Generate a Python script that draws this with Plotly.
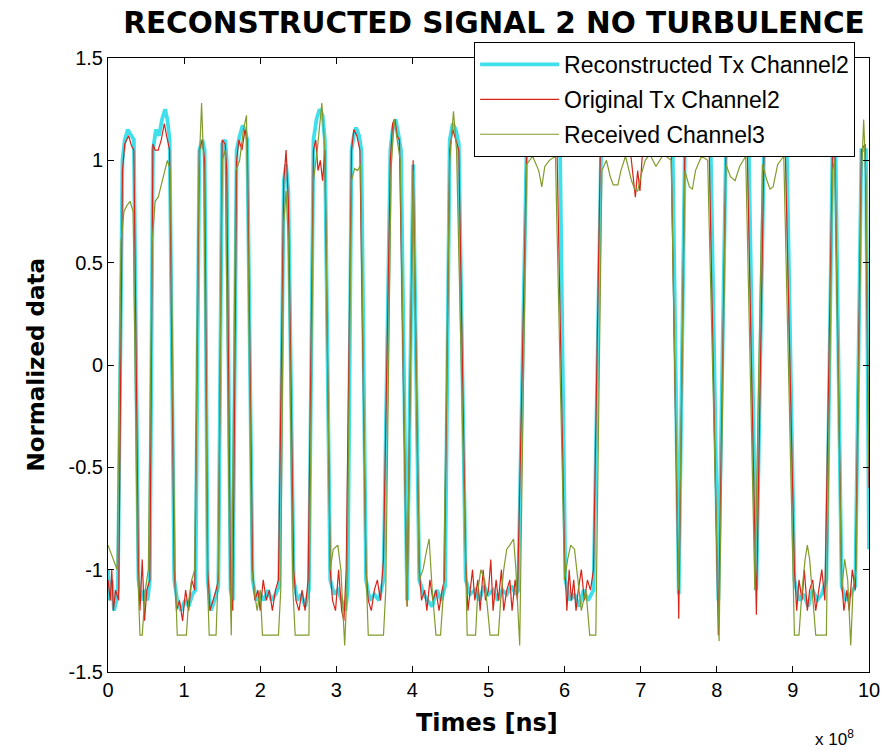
import plotly.graph_objects as go

# ---------------- data (time in units of 1e8 ns) ----------------
x_ticks = [0, 1, 2, 3, 4, 5, 6, 7, 8, 9, 10]
x_tick_text = ["0", "1", "2", "3", "4", "5", "6", "7", "8", "9", "10"]
y_ticks = [-1.5, -1.0, -0.5, 0.0, 0.5, 1.0, 1.5]
y_tick_text = ["-1.5", "-1", "-0.5", "0", "0.5", "1", "1.5"]

# Reconstructed Tx Channel2
rec_t = [0.00, 0.02, 0.05, 0.08, 0.11, 0.13,
         0.19, 0.22, 0.26, 0.30, 0.34,
         0.40, 0.44, 0.48, 0.52, 0.55,
         0.59, 0.63, 0.67, 0.71, 0.75, 0.78, 0.81,
         0.87, 0.91, 0.96, 1.01, 1.06, 1.11, 1.15,
         1.20, 1.24, 1.27,
         1.31, 1.35, 1.40, 1.45,
         1.50, 1.54, 1.56,
         1.61, 1.64,
         1.69, 1.73, 1.77, 1.80, 1.83,
         1.90, 1.95, 2.00, 2.05, 2.10, 2.15, 2.20, 2.25,
         2.31, 2.34, 2.37,
         2.44, 2.49, 2.54, 2.59, 2.64,
         2.70, 2.74, 2.78, 2.82, 2.85,
         2.92, 2.97, 3.02, 3.07, 3.12, 3.15,
         3.20, 3.23, 3.26, 3.30, 3.33,
         3.39, 3.44, 3.50, 3.56, 3.62,
         3.71, 3.74, 3.78, 3.82, 3.85,
         3.93,
         4.01,
         4.09, 4.15, 4.20, 4.26, 4.32, 4.38, 4.43,
         4.49, 4.53, 4.57, 4.61,
         4.70, 4.76, 4.82, 4.88, 4.94, 5.00, 5.06, 5.12, 5.18, 5.24, 5.30, 5.36, 5.39,
         5.50, 5.94,
         6.01, 6.07, 6.13, 6.19, 6.25, 6.31, 6.38,
         6.48, 7.42,
         7.50,
         7.58, 7.92,
         8.02,
         8.12, 8.42,
         8.52,
         8.62, 8.92,
         9.02, 9.08, 9.14, 9.20, 9.26, 9.32, 9.38, 9.44,
         9.52, 9.56,
         9.64, 9.70, 9.76, 9.82,
         9.90, 9.96,
         10.0]
rec_v = [-1.00, -1.15, -1.05, -1.20, -1.15, -1.10,
         1.00, 1.10, 1.15, 1.12, 1.10,
         -1.05, -1.15, -1.10, -1.15, -1.05,
         1.05, 1.15, 1.12, 1.20, 1.25, 1.20, 1.10,
         -1.05, -1.15, -1.20, -1.15, -1.18, -1.12, -1.10,
         1.05, 1.10, 1.05,
         -1.05, -1.20, -1.15, -1.08,
         1.08, 1.10, 1.00,
         -1.10, -1.15,
         1.05, 1.12, 1.17, 1.15, 1.10,
         -1.05, -1.15, -1.12, -1.15, -1.10, -1.15, -1.12, -1.08,
         0.90, 0.98, 0.85,
         -1.05, -1.15, -1.12, -1.18, -1.10,
         1.10, 1.20, 1.25, 1.22, 1.10,
         -1.05, -1.12, -1.10, -1.15, -1.20, -1.10,
         1.05, 1.12, 1.16, 1.12, 1.05,
         -1.05, -1.15, -1.12, -1.15, -1.05,
         1.05, 1.15, 1.20, 1.12, 1.05,
         -1.15,
         0.98,
         -1.05, -1.12, -1.15, -1.18, -1.10, -1.15, -1.08,
         1.10, 1.18, 1.15, 1.08,
         -1.05, -1.12, -1.10, -1.15, -1.08, -1.12, -1.10, -1.15, -1.10, -1.12, -1.08, -1.12, -1.10,
         1.06, 1.06,
         -1.05, -1.15, -1.12, -1.18, -1.10, -1.15, -1.10,
         1.06, 1.06,
         -1.12,
         1.06, 1.06,
         -1.15,
         1.06, 1.06,
         -1.10,
         1.06, 1.06,
         -1.05, -1.15, -1.12, -1.18, -1.10, -1.15, -1.12, -1.05,
         1.05, 1.05,
         -1.08, -1.15, -1.12, -1.08,
         1.05, 1.05,
         -0.90]

# Original Tx Channel2
orig_t = [0.00, 0.03, 0.05, 0.07, 0.10, 0.14,
          0.19, 0.22, 0.27, 0.31, 0.34,
          0.40, 0.42, 0.45, 0.48, 0.51, 0.55,
          0.59, 0.62, 0.66, 0.70, 0.74, 0.77, 0.81,
          0.87, 0.90, 0.94, 0.98, 1.02, 1.06, 1.10, 1.14,
          1.20, 1.24, 1.27,
          1.31, 1.34, 1.38, 1.42, 1.45,
          1.50, 1.54, 1.56,
          1.61, 1.64,
          1.69, 1.72, 1.76, 1.80, 1.83,
          1.90, 1.93, 1.97, 2.00, 2.04, 2.08, 2.12, 2.16, 2.20, 2.24,
          2.31, 2.34, 2.37,
          2.44, 2.47, 2.51, 2.55, 2.59, 2.63,
          2.70, 2.73, 2.76, 2.79, 2.82, 2.85,
          2.92, 2.95, 2.99, 3.03, 3.07, 3.10, 3.13,
          3.20, 3.23, 3.27, 3.31,
          3.39, 3.42, 3.46, 3.50, 3.54, 3.58, 3.62,
          3.71, 3.74, 3.77, 3.80, 3.83,
          3.93,
          4.01,
          4.09, 4.12, 4.16, 4.19, 4.23, 4.27, 4.31, 4.35, 4.39, 4.42,
          4.49, 4.53, 4.57, 4.61,
          4.70, 4.73, 4.76, 4.79, 4.82, 4.86, 4.89, 4.93, 4.96, 5.00, 5.03,
          5.06, 5.10, 5.13, 5.17, 5.20, 5.24, 5.28, 5.31, 5.35, 5.38,
          5.50, 5.55, 5.60, 5.66, 5.72, 5.78, 5.84, 5.90,
          6.00, 6.03, 6.06, 6.09, 6.12, 6.15, 6.18, 6.22, 6.26, 6.30, 6.34, 6.38,
          6.47, 6.55, 6.62, 6.70, 6.78, 6.86, 6.90, 6.93, 6.96, 6.99, 7.02, 7.10, 7.20, 7.30, 7.40,
          7.50,
          7.58, 7.65, 7.75, 7.85, 7.90,
          8.02,
          8.12, 8.20, 8.30, 8.40,
          8.52,
          8.62, 8.70, 8.80, 8.90,
          9.02, 9.05, 9.08, 9.12, 9.15, 9.19, 9.22, 9.26, 9.30, 9.34, 9.38, 9.42,
          9.52, 9.55,
          9.64, 9.67, 9.71, 9.74, 9.78, 9.82,
          9.90, 9.95,
          10.0]
orig_v = [-1.05, -1.15, -1.00, -1.20, -1.10, -1.15,
          0.95, 1.08, 1.12, 1.07, 1.05,
          -1.00, -1.20, -0.95, -1.25, -1.10, -1.05,
          1.08, 1.05, 1.05, 1.10, 1.18, 1.12, 1.05,
          -1.00, -1.20, -1.15, -1.25, -1.10, -1.20, -1.05, -1.10,
          1.05, 1.10, 1.00,
          -1.00, -1.20, -1.15, -1.10, -1.05,
          1.10, 1.08, 0.95,
          -1.10, -1.20,
          1.00, 1.10, 1.05, 1.15, 1.10,
          -1.00, -1.15, -1.10, -1.20, -1.05, -1.15, -1.10, -1.20, -1.10, -1.05,
          0.90, 1.05, 0.80,
          -1.00, -1.15, -1.20, -1.10, -1.20, -1.05,
          1.05, 1.10, 0.95, 1.00, 0.90, 1.05,
          -1.00, -1.15, -1.20, -1.00, -1.20, -1.25, -1.00,
          1.05, 1.15, 1.12, 1.05,
          -1.00, -1.15, -1.20, -1.10, -1.05, -1.15, -0.95,
          1.00, 1.18, 1.20, 1.12, 1.10,
          -1.18,
          1.00,
          -1.00, -1.15, -1.10, -1.20, -1.05, -1.15, -1.10, -1.20, -1.10, -1.05,
          1.05, 1.15, 1.10, 1.05,
          -0.95, -1.20, -1.10, -1.00, -1.15, -1.05, -1.20, -1.00, -1.15, -1.10, -0.95,
          -1.20, -1.05, -1.15, -1.00, -1.20, -1.10, -1.05, -1.20, -1.05, -1.15,
          1.02, 1.06, 1.04, 1.08, 1.05, 1.07, 1.04, 1.06,
          -0.95, -1.20, -1.00, -1.15, -1.05, -1.20, -1.10, -1.00, -1.15, -1.05, -1.10, -1.00,
          1.05, 1.08, 1.06, 1.08, 1.05, 1.06, 0.92, 0.82, 0.95, 0.85, 1.02, 1.08, 1.05, 1.08, 1.06,
          -1.24,
          1.05, 1.08, 1.06, 1.08, 1.05,
          -1.32,
          1.05, 1.08, 1.06, 1.05,
          -1.22,
          1.05, 1.08, 1.06, 1.05,
          -1.00, -1.20, -1.05, -1.15, -1.00, -1.20, -1.10, -1.05, -1.20, -1.10, -1.00, -1.15,
          1.05, 1.08,
          -1.05, -1.20, -1.10, -1.20, -1.00, -1.10,
          1.05, 1.08,
          -0.60]

# Received Channel3
rx_t = [0.00, 0.04, 0.08, 0.12,
        0.17, 0.21, 0.25, 0.29, 0.33,
        0.39, 0.42, 0.45, 0.49, 0.53,
        0.58, 0.62, 0.66, 0.70, 0.74, 0.78, 0.82,
        0.88, 0.91, 1.03, 1.06, 1.10, 1.14,
        1.19, 1.23, 1.26,
        1.31, 1.33, 1.42, 1.45,
        1.50, 1.54,
        1.60, 1.62,
        1.68, 1.73, 1.78, 1.82,
        1.89, 1.92, 1.96, 2.00, 2.03, 2.24, 2.27,
        2.31, 2.34, 2.37,
        2.43, 2.46, 2.64,
        2.70, 2.75, 2.81, 2.85,
        2.92, 2.96, 3.02, 3.06, 3.11, 3.14,
        3.20, 3.24, 3.28, 3.32,
        3.39, 3.42, 3.62, 3.65,
        3.72, 3.76, 3.80, 3.84,
        3.93,
        4.01,
        4.09, 4.14, 4.19, 4.22, 4.26, 4.31, 4.37, 4.41,
        4.49, 4.54, 4.58,
        4.70, 4.72, 4.83, 4.86, 4.90, 4.95, 4.99, 5.02, 5.13, 5.16, 5.20, 5.24, 5.28, 5.33, 5.36, 5.41,
        5.50, 5.58, 5.66, 5.70, 5.74, 5.80, 5.88,
        6.00, 6.04, 6.08, 6.13, 6.17, 6.22, 6.28, 6.33, 6.41,
        6.49, 6.55, 6.60, 6.64, 6.70, 6.74, 6.80, 6.88, 6.92, 6.96, 7.00, 7.06, 7.12, 7.20, 7.30, 7.40,
        7.50,
        7.58, 7.64, 7.68, 7.72, 7.80, 7.88,
        8.03,
        8.12, 8.18, 8.24, 8.30, 8.38,
        8.50,
        8.60, 8.66, 8.70, 8.74, 8.80, 8.88,
        9.02, 9.08, 9.12, 9.16, 9.19, 9.22, 9.26, 9.30, 9.44,
        9.52, 9.55,
        9.64, 9.68, 9.72, 9.76, 9.79, 9.83,
        9.90, 9.93, 9.96,
        10.0]
rx_v = [-0.88, -0.92, -0.95, -1.00,
        0.60, 0.75, 0.78, 0.80, 0.75,
        -1.00, -1.32, -1.32, -1.10, -1.00,
        0.60, 0.80, 0.82, 0.88, 0.95, 1.00, 0.95,
        -1.00, -1.32, -1.32, -1.15, -1.05, -1.00,
        0.90, 1.28, 0.95,
        -1.10, -1.32, -1.32, -1.00,
        1.00, 1.05,
        -1.00, -1.32,
        0.95, 1.00, 1.15, 1.22,
        -1.00, -1.10, -1.20, -1.10, -1.32, -1.32, -1.10,
        0.70, 0.85, 0.60,
        -1.10, -1.32, -1.32,
        0.90, 1.05, 1.28, 1.05,
        -1.00, -0.90, -0.88, -1.00, -1.37, -1.10,
        0.90, 0.96, 0.95, 0.98,
        -1.00, -1.32, -1.32, -1.10,
        0.95, 1.20, 1.10, 1.00,
        -1.18,
        0.95,
        -1.05, -1.00, -0.90, -0.85, -1.10, -1.32, -1.32, -1.10,
        1.00, 1.24, 1.05,
        -1.10, -1.32, -1.32, -1.10, -1.00, -1.05, -1.20, -1.32, -1.32, -1.15, -1.00, -0.90, -0.88, -0.85, -1.00, -1.37,
        0.98, 1.02, 0.95, 0.87, 0.97, 1.00, 1.02,
        -1.05, -0.95, -0.88, -0.90, -1.05, -1.20, -1.10, -1.32, -1.32,
        0.95, 1.00, 0.92, 0.88, 0.88, 0.95, 1.02, 0.90, 0.86, 0.85, 0.92, 1.00, 1.03, 0.97, 1.03, 1.00,
        -1.10,
        0.95, 0.87, 0.86, 0.95, 1.02, 1.00,
        -1.35,
        0.98, 0.92, 0.90, 0.97, 1.02,
        -1.10,
        0.98, 0.90, 0.86, 0.87, 0.98, 1.02,
        -1.32, -1.32, -1.10, -0.95, -0.88, -0.95, -1.15, -1.32, -1.32,
        0.95, 1.00,
        -1.10, -0.95, -1.05, -1.37, -1.10, -1.00,
        0.90, 1.20, 0.90,
        -0.50]

assert len(rec_t) == len(rec_v)
assert len(orig_t) == len(orig_v)
assert len(rx_t) == len(rx_v)

FONT = "Liberation Sans, Arial, sans-serif"
BOLD_FONT = "DejaVu Sans, Liberation Sans, Arial, sans-serif"

fig = go.Figure()
fig.add_trace(go.Scatter(x=rec_t, y=rec_v, mode="lines", name="Reconstructed Tx Channel2",
                         legendgroup="a", line=dict(color="#3FE0EC", width=3.8)))
fig.add_trace(go.Scatter(x=orig_t, y=orig_v, mode="lines", name="Original Tx Channel2",
                         legendgroup="b", line=dict(color="#D62418", width=1.2)))
fig.add_trace(go.Scatter(x=rx_t, y=rx_v, mode="lines", name="Received Channel3",
                         legendgroup="c", line=dict(color="#809C2C", width=1.2)))

axis_common = dict(showgrid=False, zeroline=False, showline=True, linecolor="black",
                   linewidth=1, mirror="ticks", ticks="inside", ticklen=6,
                   tickcolor="black", tickfont=dict(family=FONT, size=20, color="black"))

fig.update_xaxes(range=[0, 10], tickvals=x_ticks, ticktext=x_tick_text, **axis_common)
fig.update_yaxes(range=[-1.5, 1.5], tickvals=y_ticks, ticktext=y_tick_text, **axis_common)

fig.update_layout(
    width=892, height=752,
    margin=dict(l=108, r=17, t=58, b=80),
    paper_bgcolor="white", plot_bgcolor="white",
    title=dict(text="<b>RECONSTRUCTED SIGNAL 2 NO TURBULENCE</b>",
               font=dict(family=BOLD_FONT, size=29.5, color="black"),
               x=(497 - 108) / 767, xref="paper", xanchor="center",
               y=1 - 23 / 752, yref="container", yanchor="middle"),
    legend=dict(x=(477 - 108) / 767, y=1 + (58 - 42) / 614, xanchor="left", yanchor="top",
                bgcolor="white", bordercolor="black", borderwidth=1,
                font=dict(family=FONT, size=23, color="black"),
                traceorder="grouped", tracegroupgap=2, itemwidth=79),
    showlegend=True,
    annotations=[
        dict(text="<b>Normalized data</b>", textangle=-90, x=(35 - 108) / 767, y=0.5,
             xref="paper", yref="paper", xanchor="center", yanchor="middle", showarrow=False,
             font=dict(family=BOLD_FONT, size=23, color="black")),
        dict(text="<b>Times [ns]</b>", x=(490 - 108) / 767, y=(672 - 723) / 614,
             xref="paper", yref="paper", xanchor="center", yanchor="middle", showarrow=False,
             font=dict(family=BOLD_FONT, size=24, color="black")),
        dict(text="x 10<sup>8</sup>", x=(840 - 108) / 767, y=(672 - 738) / 614,
             xref="paper", yref="paper", xanchor="center", yanchor="middle", showarrow=False,
             font=dict(family=FONT, size=17, color="black")),
    ],
)

fig.write_html("out.html")
